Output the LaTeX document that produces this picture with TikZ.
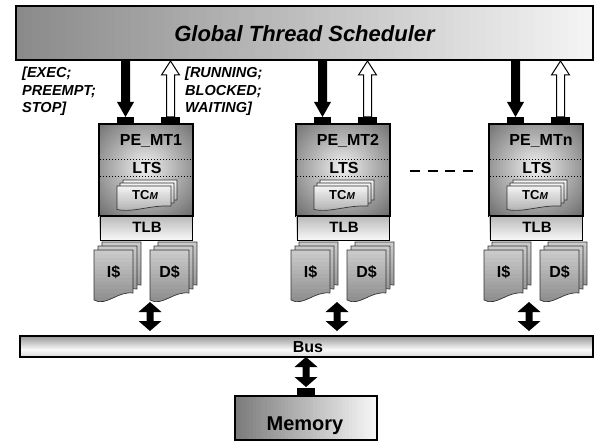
\documentclass[tikz,border=0pt]{standalone}
\usepackage{fontspec}
\setmainfont{Liberation Sans}
\usetikzlibrary{calc}
\newcommand\fsz[1]{\fontsize{#1}{#1}\selectfont}
% point helper: x, y measured downward from top
\newcommand\ptd[2]{({#1},{-(#2)})}
% vertical gradient strips: x0,ytop,x1,ybottom,topblack,bottomblack,n
\newcommand\vgrad[7]{%
  \foreach \k in {1,...,#7}{%
    \pgfmathsetmacro\vv{#5+(#6-(#5))/#7*(\k-0.5)}%
    \fill[black!\vv] \ptd{#1}{#2+(#4-(#2))/#7*(\k-1)} rectangle \ptd{#3}{#2+(#4-(#2))/#7*\k+0.4};}}
% horizontal gradient strips: x0,ytop,x1,ybottom,leftblack,rightblack,n
\newcommand\hgrad[7]{%
  \foreach \k in {1,...,#7}{%
    \pgfmathsetmacro\vv{#5+(#6-(#5))/#7*(\k-0.5)}%
    \fill[black!\vv] \ptd{#1+(#3-(#1))/#7*(\k-1)}{#2} rectangle \ptd{#1+(#3-(#1))/#7*\k+0.4}{#4};}}
\newcommand\rectv[7]{\begin{scope}\clip \ptd{#1}{#2} rectangle \ptd{#3}{#4}; \vgrad{#1}{#2}{#3}{#4}{#5}{#6}{#7}\end{scope}}
\newcommand\recth[7]{\begin{scope}\clip \ptd{#1}{#2} rectangle \ptd{#3}{#4}; \hgrad{#1}{#2}{#3}{#4}{#5}{#6}{#7}\end{scope}}
% document-like sheet outline: x0,y0,w,h,wave
\newcommand\docpath[5]{\ptd{#1}{#2} -- \ptd{#1+#3}{#2} -- \ptd{#1+#3}{#2+#4-#5}
    .. controls \ptd{#1+0.6*#3}{#2+#4-1.2*#5} and \ptd{#1+0.3*#3}{#2+#4+0.4*#5} .. \ptd{#1}{#2+#4-0.3*#5} -- cycle}
% shaded sheet: x0,y0,w,h,wave,topblack,bottomblack
\newcommand\docsheet[7]{%
  \begin{scope}\clip \docpath{#1}{#2}{#3}{#4}{#5};
    \vgrad{#1}{#2}{#1+#3}{#2+#4+#5}{#6}{#7}{16}\end{scope}
  \draw[docline] \docpath{#1}{#2}{#3}{#4}{#5};}
% stack of three sheets: x0,y0,w,h,wave,offset,topblack,bottomblack
\newcommand\docstack[8]{%
  \docsheet{#1+2*#6}{#2-2*#6}{#3}{#4}{#5}{#7}{#8}
  \docsheet{#1+#6}{#2-#6}{#3}{#4}{#5}{#7}{#8}
  \docsheet{#1}{#2}{#3}{#4}{#5}{#7}{#8}}
% solid down arrow: x, ytop, ytip
\newcommand\blackdown[3]{%
  \fill \ptd{#1-4.5}{#2} -- \ptd{#1+4.5}{#2} -- \ptd{#1+4.5}{#3-15} -- \ptd{#1+8.5}{#3-15} -- \ptd{#1}{#3}
    -- \ptd{#1-8.5}{#3-15} -- \ptd{#1-4.5}{#3-15} -- cycle;}
% hollow up arrow: x, ybottom, ytip
\newcommand\hollowup[3]{%
  \filldraw[fill=white, line width=1pt] \ptd{#1-4}{#2} -- \ptd{#1+4}{#2} -- \ptd{#1+4}{#3+14} -- \ptd{#1+9}{#3+14}
    -- \ptd{#1}{#3} -- \ptd{#1-9}{#3+14} -- \ptd{#1-4}{#3+14} -- cycle;}
% double-headed arrow: x, ytop, ybottom
\newcommand\dblarrow[3]{%
  \fill \ptd{#1}{#2} -- \ptd{#1+11.5}{#2+10} -- \ptd{#1+3.5}{#2+10} -- \ptd{#1+3.5}{#3-10} -- \ptd{#1+11.5}{#3-10}
    -- \ptd{#1}{#3} -- \ptd{#1-11.5}{#3-10} -- \ptd{#1-3.5}{#3-10} -- \ptd{#1-3.5}{#2+10} -- \ptd{#1-11.5}{#2+10} -- cycle;}
% processing element unit: name, left x, label, bus-arrow x
\newcommand\peunit[4]{%
  \blackdown{#2+26.5}{60}{117}
  \hollowup{#2+71.5}{117}{61}
  \begin{scope}
    \clip \ptd{#2}{124} rectangle \ptd{#2+94}{216};
    \foreach \k in {0,...,24}{%
      \pgfmathsetmacro\vv{58+(7-58)/24*\k}%
      \pgfmathsetmacro\ff{1-\k/25}%
      \fill[black!\vv] \ptd{#2+47}{168} ellipse [x radius={70*\ff}, y radius={68*\ff}];}
  \end{scope}
  \node[pebox] (#1) at \ptd{#2+47}{170} {};
  \node[tab] (#1ta) at \ptd{#2+26.5}{120.5} {};
  \node[tab, minimum width=19pt] (#1tb) at \ptd{#2+71.5}{120.5} {};
  \draw[dotted, line width=1pt] \ptd{#2+1}{160} -- \ptd{#2+93}{160};
  \draw[dotted, line width=1pt] \ptd{#2+1}{177} -- \ptd{#2+93}{177};
  \node[lbl16] (#1name) at \ptd{#2+52}{146} {#3};
  \node[lbl16] (#1lts) at \ptd{#2+48}{174} {LTS};
  \docstack{#2+18}{186}{54}{25}{5}{3}{4}{36}
  \node[anchor=base west, font=\bfseries, inner sep=0pt] (#1tc) at \ptd{#2+33}{200} {\fsz{13}TC\textit{\fsz{10}M}};
  \rectv{#2}{216}{#2+94}{240}{28}{3}{20}
  \node[tlbbox] (#1tlb) at \ptd{#2+47}{228} {};
  \node[lbl16, font=\fsz{15}\bfseries] (#1tlbt) at \ptd{#2+48}{233} {TLB};
  \docstack{#2-5}{250}{39}{53}{10}{4}{20}{50}
  \docstack{#2+51}{250}{39}{53}{10}{4}{20}{50}
  \node[lbl16] (#1i) at \ptd{#2+14.5}{277} {I\$};
  \node[lbl16] (#1d) at \ptd{#2+70.5}{277} {D\$};
  \dblarrow{#4}{302}{331}
}
\begin{document}
\begin{tikzpicture}[x=1pt,y=1pt,
  pebox/.style={draw, line width=1.8pt, minimum width=94pt, minimum height=92pt, inner sep=0pt},
  tlbbox/.style={draw, line width=0.9pt, minimum width=92pt, minimum height=24pt, inner sep=0pt},
  tab/.style={fill=black, minimum width=17pt, minimum height=7pt, inner sep=0pt},
  lbl16/.style={anchor=base, font=\fsz{16}\bfseries, inner sep=0pt},
  lbl14/.style={anchor=base west, font=\fsz{14.5}\bfseries\itshape, inner sep=0pt},
  docline/.style={draw=black!80, line width=0.7pt},
]
\useasboundingbox (0,0) rectangle (595,-441);
\fill[white] (0,0) rectangle (595,-441);

% scheduler
\recth{16}{6}{593}{60}{46}{4}{70}
\node[draw, line width=1.2pt, minimum width=577pt, minimum height=54pt, inner sep=0pt] (sched) at \ptd{304.5}{33} {};
\node[anchor=base, font=\fsz{22}\bfseries\itshape, inner sep=0pt] (title) at \ptd{304.5}{42} {Global Thread Scheduler};

% labels
\node[lbl14] (c1) at \ptd{22}{78} {[EXEC;};
\node[lbl14] (c2) at \ptd{22}{96} {PREEMPT;};
\node[lbl14] (c3) at \ptd{22}{113} {STOP]};
\node[lbl14] (s1) at \ptd{185}{78} {[RUNNING;};
\node[lbl14] (s2) at \ptd{185}{96} {BLOCKED;};
\node[lbl14] (s3) at \ptd{185}{113} {WAITING]};

% PE units
\peunit{peA}{99}{PE\_MT1}{150}
\peunit{peB}{296}{PE\_MT2}{337}
\peunit{peN}{489}{PE\_MTn}{529}

% dashes
\coordinate (dA) at (410,-171);
\coordinate (dB) at (477,-171);
\draw[line width=2pt, dash pattern=on 10pt off 7.5pt] (dA) -- (dB);

% bus
\rectv{20}{336}{593}{350}{42}{2}{14}
\rectv{20}{350}{593}{357}{2}{14}{7}
\node[draw, line width=1.8pt, minimum width=573pt, minimum height=21pt, inner sep=0pt] (bus) at (306.5,-346.5) {};
\node[lbl16] (bust) at (308,-352) {Bus};

% memory
\dblarrow{306}{357}{387}
\node[tab, minimum width=18pt, minimum height=8pt] (memtab) at (306,-392) {};
\recth{235}{396}{377}{440}{52}{3}{40}
\node[draw, line width=1.5pt, minimum width=142pt, minimum height=44pt, inner sep=0pt] (mem) at (306,-418) {};
\node[lbl16, font=\fsz{20}\bfseries] (memt) at (305,-430) {Memory};
\end{tikzpicture}
\end{document}
